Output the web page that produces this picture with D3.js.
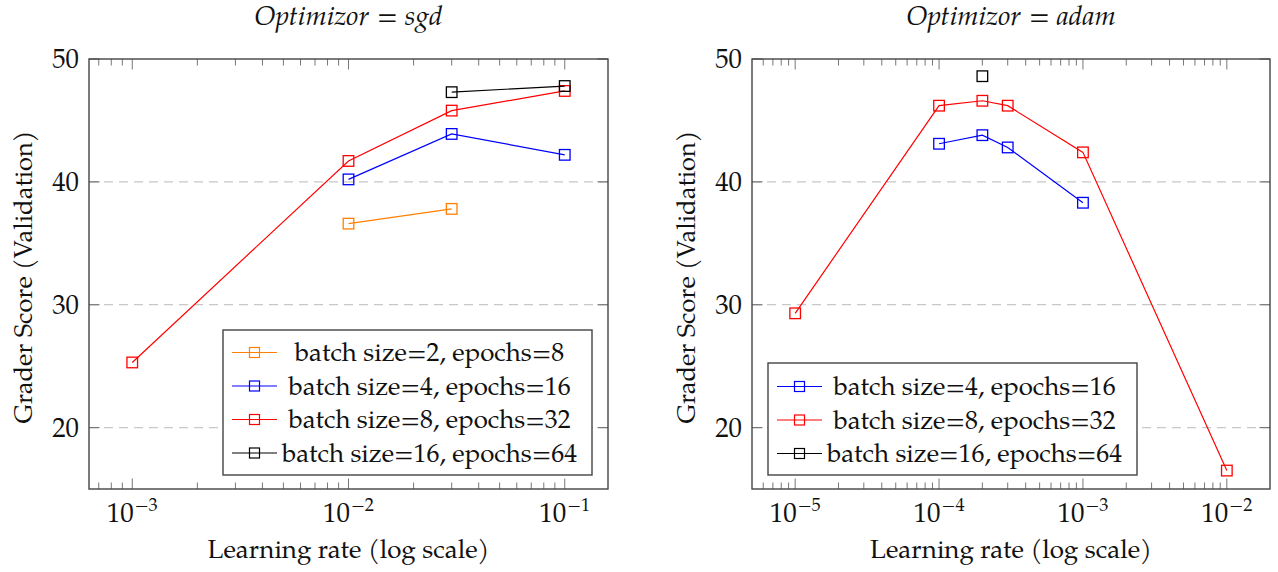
<!DOCTYPE html>
<html>
<head>
<meta charset="utf-8">
<script src="https://cdn.jsdelivr.net/npm/d3@7"></script>
<style>
  body { margin: 0; background: #fff; }
  svg { display: block; font-family: "TeX Gyre Pagella", "Palatino Linotype", "Book Antiqua", Palatino, "Liberation Serif", serif; }
</style>
</head>
<body>
<script>
// series labels + colours
const seriesNames = ["batch size=2, epochs=8", "batch size=4, epochs=16", "batch size=8, epochs=32", "batch size=16, epochs=64"];
const seriesColors = ["#ff8000", "#0000ff", "#ff0000", "#000000"];

// sgd panel
const sgdBs2Lr = [1e-2, 3e-2];
const sgdBs2Score = [36.6, 37.8];
const sgdBs4Lr = [1e-2, 3e-2, 1e-1];
const sgdBs4Score = [40.2, 43.9, 42.2];
const sgdBs8Lr = [1e-3, 1e-2, 3e-2, 1e-1];
const sgdBs8Score = [25.3, 41.7, 45.8, 47.4];
const sgdBs16Lr = [3e-2, 1e-1];
const sgdBs16Score = [47.3, 47.8];

// adam panel
const adamBs4Lr = [1e-4, 2e-4, 3e-4, 1e-3];
const adamBs4Score = [43.1, 43.8, 42.8, 38.3];
const adamBs8Lr = [1e-5, 1e-4, 2e-4, 3e-4, 1e-3, 1e-2];
const adamBs8Score = [29.3, 46.2, 46.6, 46.2, 42.4, 16.5];
const adamBs16Lr = [2e-4];
const adamBs16Score = [48.6];

const yTicks = [20, 30, 40, 50];
const sgdXTicks = [-3, -2, -1];
const adamXTicks = [-5, -4, -3, -2];

const W = 1278, H = 572;
const svg = d3.select("body").append("svg").attr("width", W).attr("height", H);

const zip = (lr, sc) => lr.map((d, i) => [d, sc[i]]);

function panel(opt) {
  const left = opt.left, right = opt.right, top = 59, bottom = 489;
  const g = svg.append("g");

  const x = d3.scaleLog().domain(opt.xDomain).range([left, right]);
  const y = d3.scaleLinear().domain([15, 50]).range([bottom, top]);

  // grid
  g.selectAll(".grid").data(yTicks.filter(d => d < 50)).enter().append("line")
    .attr("x1", left).attr("x2", right)
    .attr("y1", d => y(d)).attr("y2", d => y(d))
    .attr("stroke", "#c8c8c8").attr("stroke-width", 1.3)
    .attr("stroke-dasharray", "9,6");

  // minor + major x ticks (inside, top and bottom)
  const [lo, hi] = opt.xDomain;
  const minor = [];
  for (let e = Math.floor(Math.log10(lo)); e <= Math.ceil(Math.log10(hi)); e++) {
    for (let m = 2; m <= 9; m++) {
      const v = m * Math.pow(10, e);
      if (v > lo && v < hi) minor.push(v);
    }
  }
  const major = opt.xTicks.map(e => Math.pow(10, e));
  const tickLines = (vals, len) => {
    g.append("g").selectAll("line").data(vals).enter().append("line")
      .attr("x1", d => x(d)).attr("x2", d => x(d))
      .attr("y1", bottom).attr("y2", bottom - len)
      .attr("stroke", "#777").attr("stroke-width", 1);
    g.append("g").selectAll("line").data(vals).enter().append("line")
      .attr("x1", d => x(d)).attr("x2", d => x(d))
      .attr("y1", top).attr("y2", top + len)
      .attr("stroke", "#777").attr("stroke-width", 1);
  };
  tickLines(minor, 6.5);
  tickLines(major, 10.5);

  // y ticks, left and right
  g.append("g").selectAll("line").data(yTicks).enter().append("line")
    .attr("x1", left).attr("x2", left + 10.5)
    .attr("y1", d => y(d)).attr("y2", d => y(d))
    .attr("stroke", "#777").attr("stroke-width", 1.2);
  g.append("g").selectAll("line").data(yTicks).enter().append("line")
    .attr("x1", right).attr("x2", right - 10.5)
    .attr("y1", d => y(d)).attr("y2", d => y(d))
    .attr("stroke", "#777").attr("stroke-width", 1.2);

  // frame
  g.append("rect").attr("x", left).attr("y", top)
    .attr("width", right - left).attr("height", bottom - top)
    .attr("fill", "none").attr("stroke", "#444").attr("stroke-width", 1.4);

  // y tick labels
  g.append("g").selectAll("text").data(yTicks).enter().append("text")
    .attr("x", left - 10).attr("y", d => y(d)).attr("dy", "0.35em")
    .attr("text-anchor", "end").attr("font-size", 26.8).attr("fill", "#111")
    .text(d => d);

  // x tick labels 10^k
  const xl = g.append("g").selectAll("text").data(opt.xTicks).enter().append("text")
    .attr("x", d => x(Math.pow(10, d))).attr("y", 522)
    .attr("text-anchor", "middle").attr("font-size", 27).attr("fill", "#111");
  xl.append("tspan").text("10");
  xl.append("tspan").attr("dx", 1).attr("dy", -11).attr("font-size", 18.3).text(d => "\u2212" + Math.abs(d));

  // axis labels
  const cx = (left + right) / 2;
  g.append("text").attr("x", cx).attr("y", 558).attr("text-anchor", "middle")
    .attr("font-size", 25.9).attr("fill", "#111").text("Learning rate (log scale)");
  g.append("text").attr("transform", `translate(${left - 57},${(top + bottom) / 2 + 3}) rotate(-90)`)
    .attr("text-anchor", "middle").attr("font-size", 25.5).attr("fill", "#111")
    .text("Grader Score (Validation)");

  // title
  const t = g.append("text").attr("x", cx).attr("y", 25).attr("text-anchor", "middle")
    .attr("font-size", 27.3).attr("fill", "#111");
  t.append("tspan").attr("font-style", "italic").text("Optimizor");
  t.append("tspan").attr("dx", 8).text("=");
  t.append("tspan").attr("dx", 7).attr("font-style", "italic").text(opt.optimizer);

  // series
  const line = d3.line().x(d => x(d[0])).y(d => y(d[1]));
  opt.series.forEach(s => {
    const col = seriesColors[s.idx];
    g.append("path").datum(s.pts).attr("d", line)
      .attr("fill", "none").attr("stroke", col).attr("stroke-width", 1.2);
    g.append("g").selectAll("rect").data(s.pts).enter().append("rect")
      .attr("x", d => x(d[0]) - 5.3).attr("y", d => y(d[1]) - 5.3)
      .attr("width", 10.6).attr("height", 10.6)
      .attr("fill", "none").attr("stroke", col).attr("stroke-width", 1.3);
  });

  // legend
  const L = opt.legend;
  const lg = g.append("g");
  lg.append("rect").attr("x", L.x).attr("y", L.y).attr("width", L.w).attr("height", L.h)
    .attr("fill", "#fff").attr("stroke", "#444").attr("stroke-width", 1.4);
  opt.series.forEach((s, i) => {
    const ry = L.row0 + i * 33.5;
    const col = seriesColors[s.idx];
    lg.append("line").attr("x1", L.x + 9).attr("x2", L.x + 54).attr("y1", ry).attr("y2", ry)
      .attr("stroke", col).attr("stroke-width", 1.2);
    lg.append("rect").attr("x", L.x + 31.5 - 5).attr("y", ry - 5).attr("width", 10).attr("height", 10)
      .attr("fill", "none").attr("stroke", col).attr("stroke-width", 1.2);
    lg.append("text").attr("x", L.x + 206.5).attr("y", ry).attr("dy", "0.33em")
      .attr("text-anchor", "middle").attr("font-size", 25.8).attr("fill", "#111")
      .text(seriesNames[s.idx]);
  });
}

panel({
  left: 89, right: 608, optimizer: "sgd",
  xDomain: [Math.pow(10, -3.2), Math.pow(10, -0.8)], xTicks: sgdXTicks,
  series: [
    { idx: 0, pts: zip(sgdBs2Lr, sgdBs2Score) },
    { idx: 1, pts: zip(sgdBs4Lr, sgdBs4Score) },
    { idx: 2, pts: zip(sgdBs8Lr, sgdBs8Score) },
    { idx: 3, pts: zip(sgdBs16Lr, sgdBs16Score) }
  ],
  legend: { x: 223, y: 330, w: 369, h: 145, row0: 352.5 }
});

panel({
  left: 752, right: 1270, optimizer: "adam",
  xDomain: [Math.pow(10, -5.3), Math.pow(10, -1.7)], xTicks: adamXTicks,
  series: [
    { idx: 1, pts: zip(adamBs4Lr, adamBs4Score) },
    { idx: 2, pts: zip(adamBs8Lr, adamBs8Score) },
    { idx: 3, pts: zip(adamBs16Lr, adamBs16Score) }
  ],
  legend: { x: 768, y: 363, w: 369, h: 112, row0: 386.5 }
});
</script>
</body>
</html>
